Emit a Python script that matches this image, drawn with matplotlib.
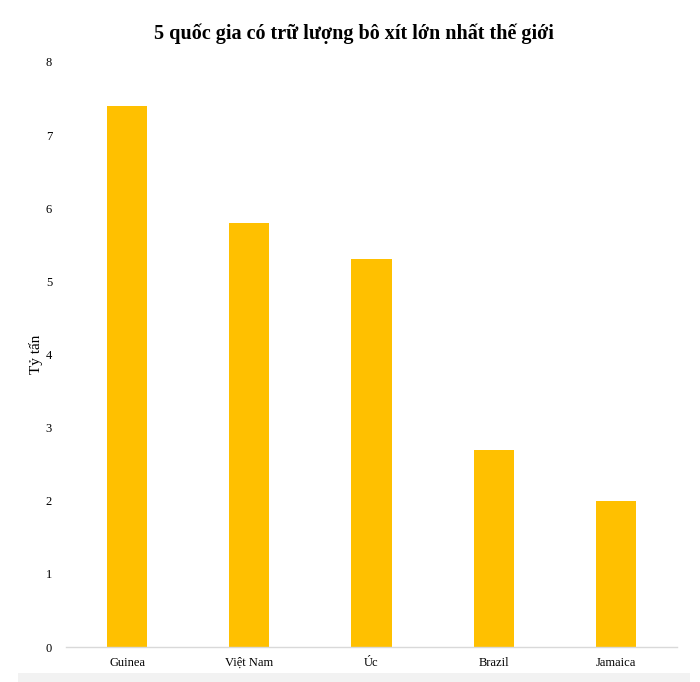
import matplotlib
matplotlib.use("Agg")
import matplotlib.pyplot as plt
from matplotlib.patches import Rectangle

countries = ["Guinea", "Việt Nam", "Úc", "Brazil", "Jamaica"]
reserves = [7.4, 5.8, 5.3, 2.7, 2.0]
yticks = [0, 1, 2, 3, 4, 5, 6, 7, 8]

plt.rcParams['font.family'] = ['Liberation Serif', 'DejaVu Serif']

fig = plt.figure(figsize=(7, 6.82), dpi=100)
ax = fig.add_axes([66/700, 35/682, 611/700, 585/682])

x = list(range(len(countries)))
ax.bar(x, reserves, width=0.33, color="#FFC000", zorder=2)
ax.set_xlim(-0.5, len(countries) - 0.5)
ax.set_ylim(0, 8)
ax.set_yticks(yticks)
ax.set_yticklabels([str(t) for t in yticks], fontsize=9)
ax.set_xticks(x)
ax.set_xticklabels(countries, fontsize=9)
ax.tick_params(length=0)
ax.tick_params(axis='y', pad=10)
ax.tick_params(axis='x', pad=7)
for s in ['top', 'right', 'left']:
    ax.spines[s].set_visible(False)
ax.spines['bottom'].set_color("#D9D9D9")
ax.spines['bottom'].set_linewidth(1.0)

ax.set_ylabel("Tỷ tấn", fontsize=11)
ax.yaxis.set_label_coords(-0.038, 0.50)

fig.text(0.505, 1 - 34/682, "5 quốc gia có trữ lượng bô xít lớn nhất thế giới",
         ha='center', va='center', fontsize=14.5, fontweight='bold')

fig.patches.append(Rectangle((18/700, 0), 672/700, 9/682, transform=fig.transFigure,
                             facecolor="#F2F2F2", edgecolor='none'))

fig.savefig("out.png", dpi=100)
